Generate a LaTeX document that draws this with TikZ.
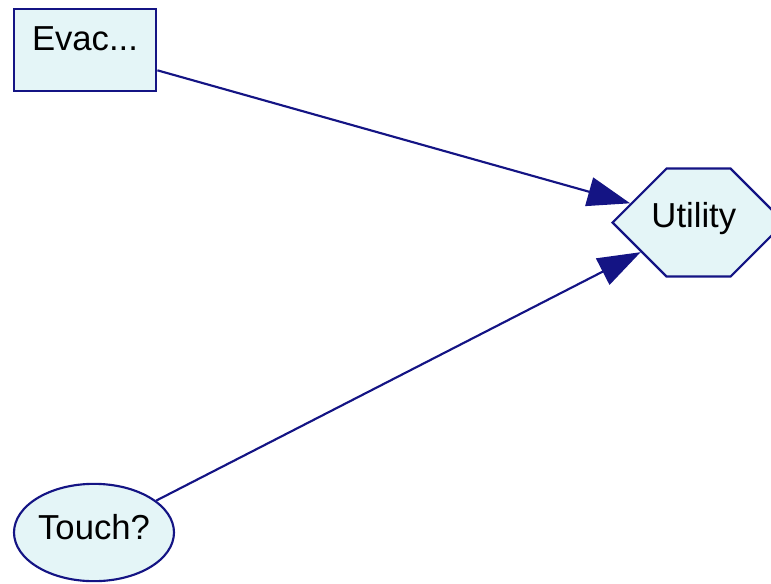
\documentclass[tikz,border=0pt]{standalone}
\usepackage{fontspec}
\setmainfont{Liberation Sans}
\usetikzlibrary{arrows.meta,shapes.geometric,shapes.symbols}
\definecolor{netblue}{RGB}{20,20,132}
\definecolor{netfill}{RGB}{228,245,247}
\begin{document}
\begin{tikzpicture}[x=0.75pt,y=-0.75pt]
\fontsize{26}{30}\selectfont
\tikzset{
  netnode/.style={draw=netblue, line width=1.6pt, fill=netfill, inner sep=0pt, text height=19pt},
  link/.style={draw=netblue, line width=1.6pt, -{Triangle[length=32pt,width=22pt]}}
}
\useasboundingbox (0,0) rectangle (771,583);
\node[netnode, rectangle, minimum width=107pt, minimum height=62pt, text depth=19pt] (evac) at (85,50) {Evac...};
% text box kept narrow so the hexagon's flat top stays short
\node[netnode, signal, signal to=west and east, signal pointer angle=90, minimum width=129pt, minimum height=81pt, text depth=12pt] (util) at (698.5,222.5) {\makebox[0pt]{Utility\hspace{7pt}}};
\node[netnode, ellipse, minimum width=120pt, minimum height=73pt, text depth=8pt] (touch) at (94,532.5) {Touch?};
\path[link] (evac) -- (util);
\path[link] (touch) -- (util);
\end{tikzpicture}
\end{document}
